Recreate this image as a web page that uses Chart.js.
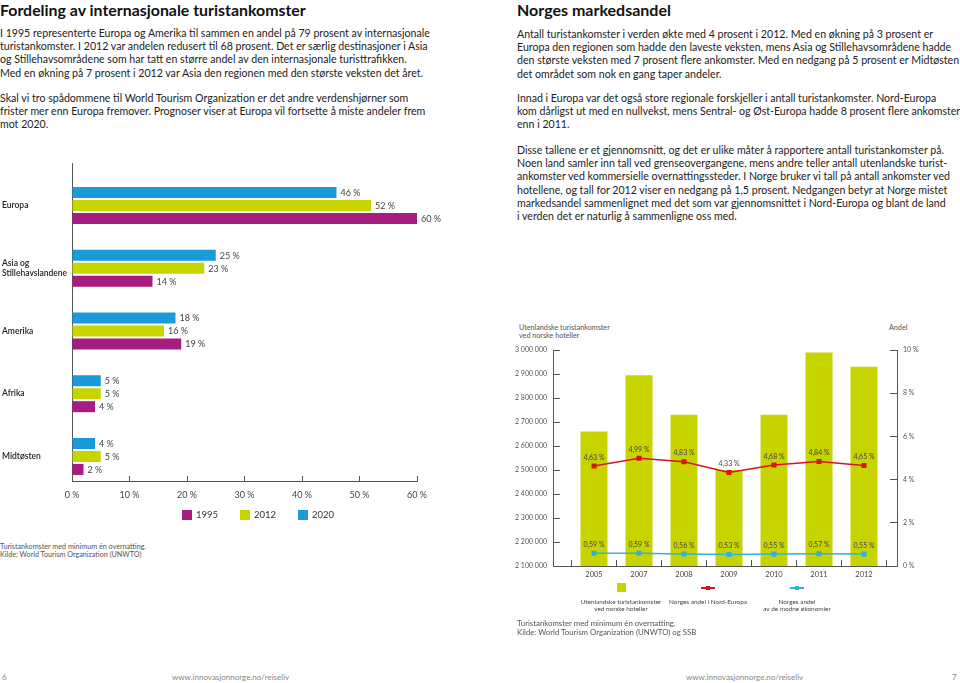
<!DOCTYPE html>
<html>
<head>
<meta charset="utf-8">
<script src="https://cdn.jsdelivr.net/npm/chart.js@4.4.1/dist/chart.umd.min.js"></script>
<style>
  body { margin: 0; width: 960px; height: 683px; position: relative; background: #fff; overflow: hidden;
         font-family: Lato, "Noto Sans", sans-serif; color: #222; }
  .t { position: absolute; white-space: pre; }
  .h { font-weight: bold; font-size: 15.9px; color: #111; top: 0; }
  .p { font-size: 10.6px; line-height: 13.2px; }
  .note { font-size: 7.2px; line-height: 8px; color: #555; }
  .foot { font-size: 8px; color: #888; top: 672px; }
  canvas { position: absolute; }
  .lg { position: absolute; display: flex; font-size: 9.5px; color: #333; }
  .lg div { width: 58px; display: flex; align-items: center; }
  .lg span { display: inline-block; width: 10px; height: 10px; margin-right: 4px; }
  .lg2 { position: absolute; width: 120px; text-align: center; font-size: 6.4px; line-height: 7px; color: #444; }
  .mk { height: 9px; margin: 0 auto 6px; position: relative; }
</style>
</head>
<body>

<div class="t h" style="left:0">Fordeling av internasjonale turistankomster</div>
<div class="t p" style="left:0; top:27px">I 1995 representerte Europa og Amerika til sammen en andel på 79 prosent av internasjonale
turistankomster. I 2012 var andelen redusert til 68 prosent. Det er særlig destinasjoner i Asia
og Stillehavsområdene som har tatt en større andel av den internasjonale turisttrafikken.
Med en økning på 7 prosent i 2012 var Asia den regionen med den største veksten det året.</div>
<div class="t p" style="left:0; top:92px">Skal vi tro spådommene til World Tourism Organization er det andre verdenshjørner som
frister mer enn Europa fremover. Prognoser viser at Europa vil fortsette å miste andeler frem
mot 2020.</div>

<div class="t h" style="left:517px; font-size:16px">Norges markedsandel</div>
<div class="t p" style="left:517px; top:28px">Antall turistankomster i verden økte med 4 prosent i 2012. Med en økning på 3 prosent er
Europa den regionen som hadde den laveste veksten, mens Asia og Stillehavsområdene hadde
den største veksten med 7 prosent flere ankomster. Med en nedgang på 5 prosent er Midtøsten
det området som nok en gang taper andeler.</div>
<div class="t p" style="left:517px; top:92px">Innad i Europa var det også store regionale forskjeller i antall turistankomster. Nord-Europa
kom dårligst ut med en nullvekst, mens Sentral- og Øst-Europa hadde 8 prosent flere ankomster
enn i 2011.</div>
<div class="t p" style="left:517px; top:144px">Disse tallene er et gjennomsnitt, og det er ulike måter å rapportere antall turistankomster på.
Noen land samler inn tall ved grenseovergangene, mens andre teller antall utenlandske turist-
ankomster ved kommersielle overnattingssteder. I Norge bruker vi tall på antall ankomster ved
hotellene, og tall for 2012 viser en nedgang på 1,5 prosent. Nedgangen betyr at Norge mistet
markedsandel sammenlignet med det som var gjennomsnittet i Nord-Europa og blant de land
i verden det er naturlig å sammenligne oss med.</div>

<canvas id="regionChart" width="470" height="360" style="left:0; top:150px"></canvas>
<div class="lg" id="regionLegend" style="left:182px; top:509px"></div>
<div class="t note" style="left:0; top:543px">Turistankomster med minimum én overnatting.
Kilde: World Tourism Organization (UNWTO)</div>

<div class="t note" style="left:519px; top:324px">Utenlandske turistankomster
ved norske hoteller</div>
<div class="t note" style="left:889px; top:324px; color:#555">Andel</div>
<canvas id="hotelChart" width="460" height="280" style="left:500px; top:315px"></canvas>
<div id="hotelLegend"></div>
<div class="t note" style="left:517px; top:619px; font-size:7.8px; line-height:9px">Turistankomster med minimum én overnatting.
Kilde: World Tourism Organization (UNWTO) og SSB</div>

<div class="t foot" style="left:2px">6</div>
<div class="t foot" style="left:172px">www.innovasjonnorge.no/reiseliv</div>
<div class="t foot" style="left:686px">www.innovasjonnorge.no/reiseliv</div>
<div class="t foot" style="left:952px">7</div>

<script>
// venstre figur: andel av internasjonale turistankomster
const regions = ['Europa', ['Asia og', 'Stillehavslandene'], 'Amerika', 'Afrika', 'Midtøsten'];
const share2020 = [46, 25, 18, 5, 4];
const share2012 = [52, 23, 16, 5, 5];
const share1995 = [60, 14, 19, 4, 2];

// høyre figur: Norges markedsandel
const years = ['2005', '2007', '2008', '2009', '2010', '2011', '2012'];
const hotelArrivals = [2660000, 2895000, 2730000, 2500000, 2730000, 2990000, 2930000];
const shareNordEuropa = [4.63, 4.99, 4.83, 4.33, 4.68, 4.84, 4.65];
const shareModne = [0.59, 0.59, 0.56, 0.53, 0.55, 0.57, 0.55];

const PURPLE = '#a61c80';
const LIME = '#c8d400';
const BLUE = '#1a9ad8';
const RED = '#d7141a';
const CYAN = '#2db3dd';
const AXIS = '#555';

Chart.defaults.font.family = 'Lato, "Noto Sans", sans-serif';
Chart.defaults.color = '#444';

const pct = v => v.toFixed(2).replace('.', ',') + ' %';
const spaced = v => String(v).replace(/\B(?=(\d{3})+(?!\d))/g, ' ');

// skriver verdiene ved søylene / punktene
const valueLabels = {
    id: 'valueLabels',
    afterDatasetsDraw(chart, args, opts) {
        const ctx = chart.ctx;
        ctx.save();
        ctx.fillStyle = opts.color;
        ctx.font = opts.size + 'px Lato, "Noto Sans", sans-serif';
        chart.data.datasets.forEach((ds, i) => {
            if (!ds.showValues) return;
            const meta = chart.getDatasetMeta(i);
            meta.data.forEach((el, j) => {
                const raw = ds.data[j];
                if (opts.horizontal) {
                    ctx.textAlign = 'left';
                    ctx.textBaseline = 'middle';
                    ctx.fillText(raw.x + ' %', el.x + 4, el.y + 0.5);
                } else {
                    ctx.textAlign = 'center';
                    ctx.textBaseline = 'bottom';
                    ctx.fillText(pct(raw.y), el.x, el.y - 5);
                }
            });
        });
        ctx.restore();
    }
};

const regionSeries = [
    { label: '2020', values: share2020, color: BLUE },
    { label: '2012', values: share2012, color: LIME },
    { label: '1995', values: share1995, color: PURPLE }
];

new Chart(document.getElementById('regionChart'), {
    type: 'bar',
    data: {
        datasets: regionSeries.map(s => ({
            label: s.label,
            data: s.values.map((v, i) => ({ x: v, y: i })),
            backgroundColor: s.color,
            showValues: true
        }))
    },
    options: {
        indexAxis: 'y',
        responsive: false,
        animation: false,
        layout: { padding: { top: 13, left: 2, right: 53, bottom: 0 } },
        datasets: { bar: { categoryPercentage: 0.62, barPercentage: 0.85 } },
        plugins: {
            legend: { display: false },
            tooltip: { enabled: false },
            valueLabels: { color: '#444', size: 9, horizontal: true }
        },
        scales: {
            x: {
                type: 'linear', min: 0, max: 60,
                ticks: { stepSize: 10, padding: 14, color: '#444', font: { size: 9 }, callback: v => v + ' %' },
                grid: { drawOnChartArea: false, tickLength: -5, color: AXIS },
                border: { color: AXIS, width: 1 },
                afterFit: s => { s.height = 29; }
            },
            y: {
                type: 'linear', reverse: true, offset: false, min: -0.677, max: 4.391,
                ticks: {
                    stepSize: 1, includeBounds: false, autoSkip: false, crossAlign: 'far',
                    color: '#222', font: { size: 8.5, weight: '600' },
                    callback: v => regions[v]
                },
                grid: { display: false, drawTicks: false },
                border: { color: AXIS, width: 1 },
                afterFit: s => { s.width = 70; }
            }
        }
    },
    plugins: [valueLabels]
});

// forklaring under venstre figur, i rekkefølge 1995, 2012, 2020
const regionLegend = document.getElementById('regionLegend');
regionSeries.slice().reverse().forEach(s => {
    const item = document.createElement('div');
    item.innerHTML = '<span style="background:' + s.color + '"></span>' + s.label;
    regionLegend.appendChild(item);
});

new Chart(document.getElementById('hotelChart'), {
    type: 'bar',
    data: {
        datasets: [
            {
                type: 'line',
                label: 'Norges andel i Nord-Europa',
                data: shareNordEuropa.map((v, i) => ({ x: i, y: v })),
                yAxisID: 'y1',
                borderColor: RED, backgroundColor: RED,
                borderWidth: 1.5, pointStyle: 'rect', pointRadius: 2.5,
                showValues: true
            },
            {
                type: 'line',
                label: 'Norges andel av de modne økonomier',
                data: shareModne.map((v, i) => ({ x: i, y: v })),
                yAxisID: 'y1',
                borderColor: CYAN, backgroundColor: CYAN,
                borderWidth: 1.5, pointStyle: 'rect', pointRadius: 2.5,
                showValues: true
            },
            {
                label: 'Utenlandske turistankomster ved norske hoteller',
                data: hotelArrivals.map((v, i) => ({ x: i, y: v })),
                yAxisID: 'y',
                backgroundColor: LIME,
                barPercentage: 0.6, categoryPercentage: 1
            }
        ]
    },
    options: {
        responsive: false,
        animation: false,
        layout: { padding: { top: 35, left: 0, right: 0, bottom: 0 } },
        plugins: {
            legend: { display: false },
            tooltip: { enabled: false },
            valueLabels: { color: '#444', size: 7, horizontal: false }
        },
        scales: {
            x: {
                type: 'linear', offset: false, min: -0.911, max: 6.733,
                ticks: { stepSize: 1, includeBounds: false, autoSkip: false, padding: 10, color: '#444',
                         font: { size: 7.5 }, callback: v => years[v] },
                grid: { offset: true, drawOnChartArea: false, tickLength: -6, color: AXIS },
                border: { color: AXIS, width: 1 },
                afterFit: s => { s.height = 29; }
            },
            y: {
                position: 'left', min: 2100000, max: 3000000,
                ticks: { stepSize: 100000, padding: 13, color: '#555', font: { size: 7 }, callback: v => spaced(v) },
                grid: { drawOnChartArea: false, tickLength: -7, color: AXIS },
                border: { color: AXIS, width: 1 },
                afterFit: s => { s.width = 53; }
            },
            y1: {
                position: 'right', min: 0, max: 10,
                ticks: { stepSize: 2, padding: 13, color: '#555', font: { size: 7 }, callback: v => v + ' %' },
                grid: { drawOnChartArea: false, tickLength: -7, color: AXIS },
                border: { color: AXIS, width: 1 },
                afterFit: s => { s.width = 63; }
            }
        }
    },
    plugins: [valueLabels]
});

// forklaring under høyre figur
const hotelLegendItems = [
    { text: 'Utenlandske turistankomster<br>ved norske hoteller', cx: 621, kind: 'box', color: LIME },
    { text: 'Norges andel i Nord-Europa', cx: 708, kind: 'line', color: RED },
    { text: 'Norges andel<br>av de modne økonomier', cx: 797, kind: 'line', color: CYAN }
];
const hotelLegend = document.getElementById('hotelLegend');
hotelLegendItems.forEach(it => {
    const d = document.createElement('div');
    d.className = 'lg2';
    d.style.left = (it.cx - 60) + 'px';
    d.style.top = '583px';
    let mark;
    if (it.kind === 'box') {
        mark = '<div class="mk" style="width:9px;background:' + it.color + '"></div>';
    } else {
        mark = '<div class="mk" style="width:14px">' +
            '<div style="position:absolute;left:0;right:0;top:4px;height:1.5px;background:' + it.color + '"></div>' +
            '<div style="position:absolute;left:5px;top:2.5px;width:4px;height:4px;background:' + it.color + '"></div></div>';
    }
    d.innerHTML = mark + it.text;
    hotelLegend.appendChild(d);
});
</script>
</body>
</html>
